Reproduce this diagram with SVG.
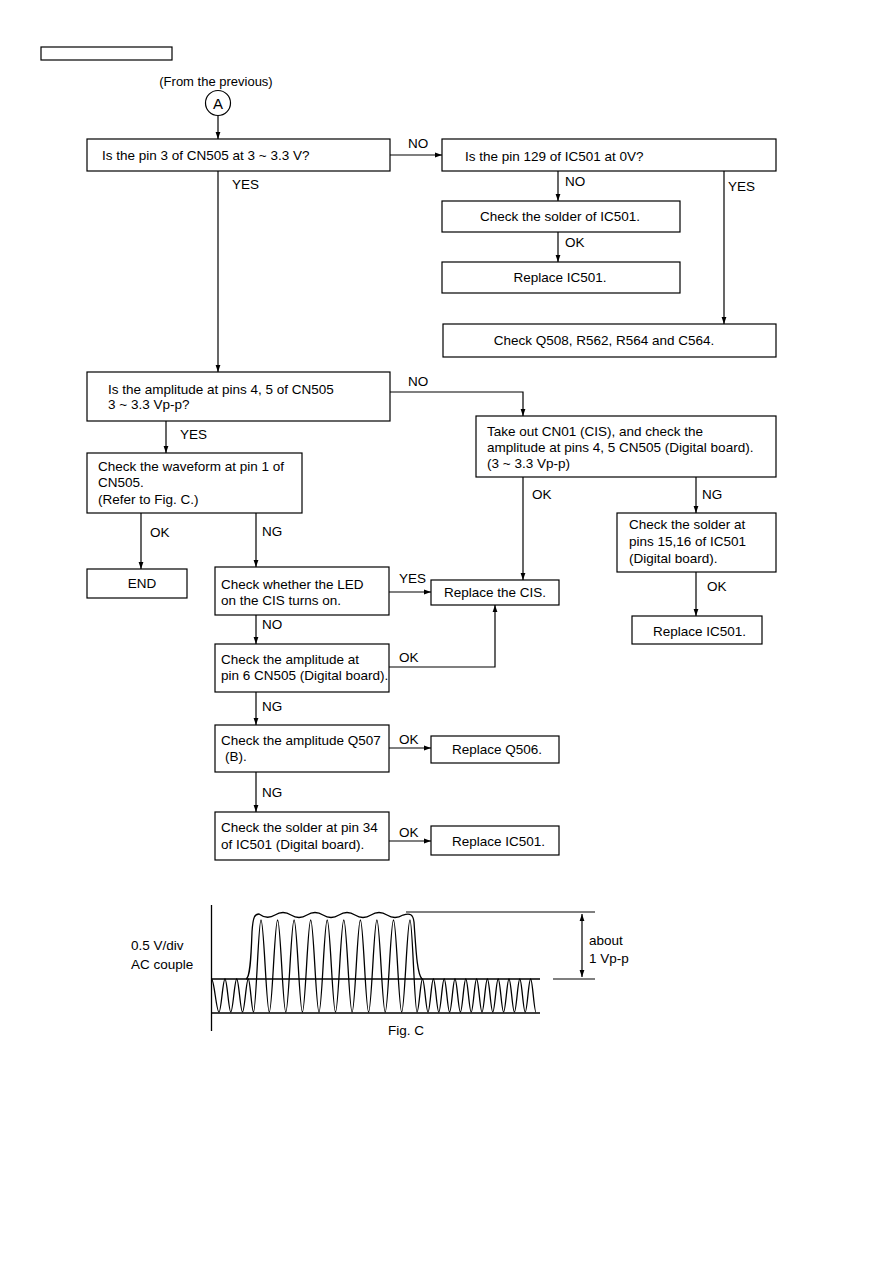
<svg xmlns="http://www.w3.org/2000/svg" width="893" height="1263" viewBox="0 0 893 1263">
<style>
text{font-family:"Liberation Sans",Arial,sans-serif;font-size:13.5px;fill:#000}
.b{fill:#fff;stroke:#000;stroke-width:1.2}
.c{fill:none;stroke:#000;stroke-width:1.2}
.w{fill:none;stroke:#000;stroke-width:1.3}
.m{text-anchor:middle}
</style>
<defs>
<marker id="ah" markerWidth="7" markerHeight="6" refX="7" refY="3" orient="auto-start-reverse" markerUnits="userSpaceOnUse"><path d="M0,0.6 L7,3 L0,5.4 z" fill="#000"/></marker>
</defs>
<rect x="41" y="47" width="131" height="13" class="b"/>
<g id="start">
<text x="216" y="86" class="m" style="font-size:13px">(From the previous)</text>
<circle cx="218" cy="103" r="12.5" class="b"/>
<text x="218" y="108.5" class="m" style="font-size:15px">A</text>
</g>
<g id="connectors">
<path d="M218 116 V139" class="c" marker-end="url(#ah)"/>
<path d="M390 155 H442" class="c" marker-end="url(#ah)"/>
<path d="M558 171 V201" class="c" marker-end="url(#ah)"/>
<path d="M558 232 V262" class="c" marker-end="url(#ah)"/>
<path d="M724 171 V324" class="c" marker-end="url(#ah)"/>
<path d="M218 171 V372" class="c" marker-end="url(#ah)"/>
<path d="M390 392 H523 V416" class="c" marker-end="url(#ah)"/>
<path d="M166 421 V453" class="c" marker-end="url(#ah)"/>
<path d="M141 513 V569" class="c" marker-end="url(#ah)"/>
<path d="M256 513 V567" class="c" marker-end="url(#ah)"/>
<path d="M389 592 H431" class="c" marker-end="url(#ah)"/>
<path d="M523 477 V580" class="c" marker-end="url(#ah)"/>
<path d="M696 477 V513" class="c" marker-end="url(#ah)"/>
<path d="M696 572 V616" class="c" marker-end="url(#ah)"/>
<path d="M256 615 V644" class="c" marker-end="url(#ah)"/>
<path d="M389 667 H495 V605" class="c" marker-end="url(#ah)"/>
<path d="M256 692 V725" class="c" marker-end="url(#ah)"/>
<path d="M389 748 H431" class="c" marker-end="url(#ah)"/>
<path d="M256 772 V812" class="c" marker-end="url(#ah)"/>
<path d="M389 841 H431" class="c" marker-end="url(#ah)"/>
<text x="408" y="148">NO</text>
<text x="565" y="186">NO</text>
<text x="728" y="191">YES</text>
<text x="565" y="247">OK</text>
<text x="232" y="189">YES</text>
<text x="408" y="386">NO</text>
<text x="180" y="439">YES</text>
<text x="532" y="499">OK</text>
<text x="702" y="499">NG</text>
<text x="150" y="537">OK</text>
<text x="262" y="536">NG</text>
<text x="399" y="583">YES</text>
<text x="707" y="591">OK</text>
<text x="262" y="629">NO</text>
<text x="399" y="662">OK</text>
<text x="262" y="711">NG</text>
<text x="399" y="744">OK</text>
<text x="262" y="797">NG</text>
<text x="399" y="837">OK</text>
</g>
<g id="n1"><rect x="87" y="139" width="303" height="32" class="b"/><text x="102" y="160">Is the pin 3 of CN505 at 3 ~ 3.3 V?</text></g>
<g id="n2"><rect x="442" y="139" width="334" height="32" class="b"/><text x="465" y="161">Is the pin 129 of IC501 at 0V?</text></g>
<g id="n3"><rect x="442" y="201" width="238" height="31" class="b"/><text x="560" y="221" class="m">Check the solder of IC501.</text></g>
<g id="n4"><rect x="442" y="262" width="238" height="31" class="b"/><text x="560" y="282" class="m">Replace IC501.</text></g>
<g id="n5"><rect x="443" y="324" width="333" height="33" class="b"/><text x="604" y="345" class="m">Check Q508, R562, R564 and C564.</text></g>
<g id="n6"><rect x="87" y="372" width="303" height="49" class="b"/><text x="108" y="394">Is the amplitude at pins 4, 5 of CN505</text><text x="108" y="409">3 ~ 3.3 Vp-p?</text></g>
<g id="n7"><rect x="476" y="416" width="300" height="61" class="b"/><text x="487" y="436">Take out CN01 (CIS), and check the</text><text x="487" y="452">amplitude at pins 4, 5 CN505 (Digital board).</text><text x="487" y="468">(3 ~ 3.3 Vp-p)</text></g>
<g id="n8"><rect x="87" y="453" width="215" height="60" class="b"/><text x="98" y="471">Check the waveform at pin 1 of</text><text x="98" y="487">CN505.</text><text x="98" y="504">(Refer to Fig. C.)</text></g>
<g id="n9"><rect x="87" y="569" width="100" height="29" class="b"/><text x="142" y="588" class="m">END</text></g>
<g id="n10"><rect x="215" y="567" width="174" height="48" class="b"/><text x="221" y="589">Check whether the LED</text><text x="221" y="605">on the CIS turns on.</text></g>
<g id="n11"><rect x="431" y="580" width="128" height="25" class="b"/><text x="444" y="597">Replace the CIS.</text></g>
<g id="n12"><rect x="617" y="513" width="159" height="59" class="b"/><text x="629" y="529">Check the solder at</text><text x="629" y="546">pins 15,16 of IC501</text><text x="629" y="563">(Digital board).</text></g>
<g id="n13"><rect x="632" y="616" width="130" height="28" class="b"/><text x="653" y="636">Replace IC501.</text></g>
<g id="n14"><rect x="215" y="644" width="174" height="48" class="b"/><text x="221" y="664">Check the amplitude at</text><text x="221" y="680">pin 6 CN505 (Digital board).</text></g>
<g id="n15"><rect x="215" y="725" width="174" height="47" class="b"/><text x="221" y="745">Check the amplitude Q507</text><text x="225" y="761">(B).</text></g>
<g id="n16"><rect x="431" y="736" width="128" height="27" class="b"/><text x="452" y="754">Replace Q506.</text></g>
<g id="n17"><rect x="215" y="812" width="174" height="48" class="b"/><text x="221" y="832">Check the solder at pin 34</text><text x="221" y="849">of IC501 (Digital board).</text></g>
<g id="n18"><rect x="431" y="826" width="128" height="29" class="b"/><text x="452" y="846">Replace IC501.</text></g>
<g id="figC">
<path d="M211.5 905 V1031" class="w"/>
<path d="M211 979 H540 M211 1013 H540" class="w"/>
<path d="M406 912 H595 M553 979 H595" class="c"/>
<path d="M582 914 V977" class="c" marker-start="url(#ah)" marker-end="url(#ah)"/>
<path class="w" d="M211.5 979 C214.2 979 216.3 1012 219 1012 C221.2 1012 222.8 979 225 979 C227.1 979 228.7 1012 230.8 1012 C232.9 1012 234.6 979 236.7 979 C238.8 979 240.4 1012 242.5 1012 C244.6 1012 246.2 979 248.3 979 C250.2 979 251.6 1012 253.5 1012 C256.2 1012 258.3 920 261 920 C264 920 266.3 1012 269.3 1012 C272.3 1012 274.6 920 277.6 920 C280.6 920 282.8 1012 285.8 1012 C288.8 1012 291.1 920 294.1 920 C297.1 920 299.4 1012 302.4 1012 C305.4 1012 307.7 920 310.7 920 C313.7 920 316 1012 319 1012 C322 1012 324.2 920 327.2 920 C330.2 920 332.5 1012 335.5 1012 C338.5 1012 340.8 920 343.8 920 C346.8 920 349.1 1012 352.1 1012 C355.1 1012 357.4 920 360.4 920 C363.4 920 365.6 1012 368.6 1012 C371.6 1012 373.9 920 376.9 920 C379.9 920 382.2 1012 385.2 1012 C388.2 1012 390.5 920 393.5 920 C396.5 920 398.7 1012 401.7 1012 C404.7 1012 407 920 410 920 C412.5 920 414.5 1012 417 1012 C419 1012 420.5 979 422.5 979 C424.5 979 426 1012 428 1012 C430 1012 431.4 979 433.4 979 C435.4 979 436.8 1012 438.8 1012 C440.8 1012 442.2 979 444.2 979 C446.2 979 447.6 1012 449.6 1012 C451.6 1012 453 979 455 979 C457 979 458.4 1012 460.4 1012 C462.4 1012 463.8 979 465.8 979 C467.8 979 469.2 1012 471.2 1012 C473.2 1012 474.6 979 476.6 979 C478.6 979 480 1012 482 1012 C484 1012 485.4 979 487.4 979 C489.4 979 490.8 1012 492.8 1012 C494.8 1012 496.2 979 498.2 979 C500.2 979 501.6 1012 503.6 1012 C505.6 1012 507 979 509 979 C511 979 512.4 1012 514.4 1012 C516.4 1012 517.8 979 519.8 979 C521.8 979 523.2 1012 525.2 1012 C527.2 1012 528.6 979 530.6 979 C532.6 979 534 1012 536 1012"/>
<path class="w" d="M246 979 C250 978 251 960 252 932 C253 916 255 914 259 914 Q267 920 275 915 T291 915 T307 915 T323 915 T339 915 T355 915 T371 915 T387 915 T403 915 C410 913 413 914 414 922 C416 950 417 974 422 979"/>
<text x="131" y="950">0.5 V/div</text>
<text x="131" y="969">AC couple</text>
<text x="589" y="945">about</text>
<text x="589" y="963">1 Vp-p</text>
<text x="388" y="1035">Fig. C</text>
</g>
</svg>
